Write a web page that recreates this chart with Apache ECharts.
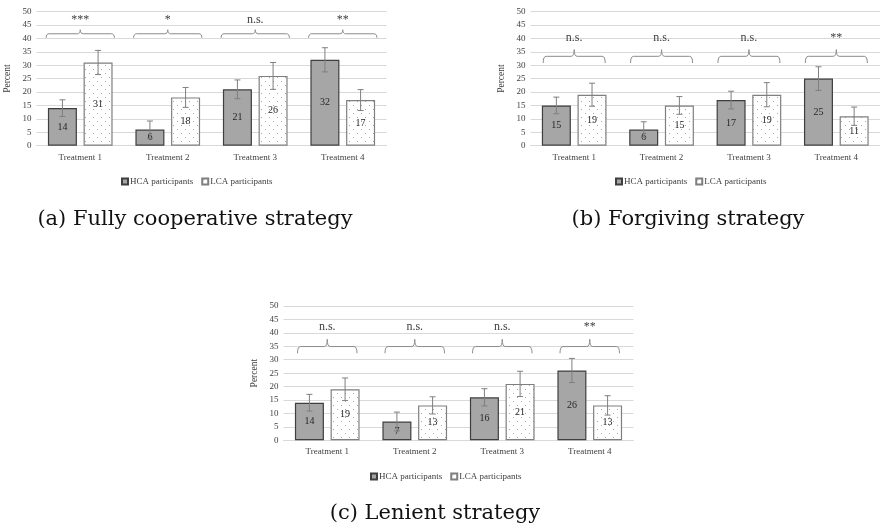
<!DOCTYPE html>
<html>
<head>
<meta charset="utf-8">
<script src="https://cdn.jsdelivr.net/npm/echarts@6/dist/echarts.min.js"></script>
<style>
  html, body { margin: 0; padding: 0; background: #fff; }
  #chart { width: 880px; height: 529px; }
</style>
</head>
<body>
<div id="chart"></div>
<script>
// Share of participants using each strategy, by treatment and group
const categories = ['Treatment 1', 'Treatment 2', 'Treatment 3', 'Treatment 4'];
const groupNames = ['HCA participants', 'LCA participants'];
const yTicks = { min: 0, max: 50, step: 5 };

// (a) Fully cooperative strategy
const coopHCA = [14, 6, 21, 32];
const coopLCA = [31, 18, 26, 17];
const coopHCAErr = [3.1, 3.2, 3.5, 4.5];
const coopLCAErr = [4.5, 3.7, 5.0, 3.9];
const coopSig = ['***', '*', 'n.s.', '**'];

// (b) Forgiving strategy
const forgHCA = [15, 6, 17, 25];
const forgLCA = [19, 15, 19, 11];
const forgHCAErr = [3.1, 2.9, 3.3, 4.4];
const forgLCAErr = [4.3, 3.3, 4.5, 3.4];
const forgSig = ['n.s.', 'n.s.', 'n.s.', '**'];

// (c) Lenient strategy
const lenHCA = [14, 7, 16, 26];
const lenLCA = [19, 13, 21, 13];
const lenHCAErr = [3.1, 3.5, 3.2, 4.5];
const lenLCAErr = [4.2, 3.2, 4.7, 3.6];
const lenSig = ['n.s.', 'n.s.', 'n.s.', '**'];

const captions = ['(a) Fully cooperative strategy', '(b) Forgiving strategy', '(c) Lenient strategy'];

// ---- layout and style ----
const FONT = '"Liberation Serif", "Times New Roman", serif';
const CAPTION_FONT = '"DejaVu Serif", serif';
const BAR_W = 29;
const BAR_GAP = 0.23;
const BAR_OFF = (BAR_W + BAR_W * BAR_GAP) / 2;

const panels = [
  { hca: coopHCA, lca: coopLCA, hErr: coopHCAErr, lErr: coopLCAErr, sig: coopSig,
    grid: { left: 36.5, top: 11.5, width: 350, height: 134.2 },
    brace: { level: 41.7, drop: 1.5, peak: 1.5, text: 46.8, frac: 0.78 },
    legend: { left: 116, top: 172 }, caption: { x: 195, y: 219.5 } },
  { hca: forgHCA, lca: forgLCA, hErr: forgHCAErr, lErr: forgLCAErr, sig: forgSig,
    grid: { left: 530.5, top: 11.5, width: 350, height: 134.2 },
    brace: { level: 33.3, drop: 2.5, peak: 2.5, text: 40.2, frac: 0.71 },
    legend: { left: 610, top: 172 }, caption: { x: 688, y: 219.5 } },
  { hca: lenHCA, lca: lenLCA, hErr: lenHCAErr, lErr: lenLCAErr, sig: lenSig,
    grid: { left: 283.5, top: 306, width: 350, height: 134.3 },
    brace: { level: 34.9, drop: 2.5, peak: 2.7, text: 42.4, frac: 0.68 },
    legend: { left: 365, top: 467 }, caption: { x: 435, y: 513.5 } }
];

// white fill with a sparse grey dot pattern for the LCA bars
function dotPattern() {
  const c = document.createElement('canvas');
  c.width = 8; c.height = 8;
  const g = c.getContext('2d');
  g.fillStyle = '#ffffff';
  g.fillRect(0, 0, 8, 8);
  g.fillStyle = '#a8a8a8';
  g.fillRect(1, 1, 1, 1);
  g.fillRect(5, 5, 1, 1);
  return c;
}
const dots = dotPattern();

const option = {
  animation: false,
  backgroundColor: '#ffffff',
  textStyle: { fontFamily: FONT },
  grid: [],
  xAxis: [],
  yAxis: [],
  legend: [],
  series: [],
  graphic: []
};

panels.forEach((p, i) => {
  option.grid.push(Object.assign({ containLabel: false }, p.grid));
  option.xAxis.push({
    type: 'category', gridIndex: i, data: categories,
    axisLine: { show: true, lineStyle: { color: '#d9d9d9', width: 1 } },
    axisTick: { show: false },
    axisLabel: { fontFamily: FONT, fontSize: 9, color: '#404040', margin: 7 }
  });
  option.yAxis.push({
    type: 'value', gridIndex: i, min: yTicks.min, max: yTicks.max, interval: yTicks.step,
    name: 'Percent', nameLocation: 'middle', nameRotate: 90, nameGap: 24,
    nameTextStyle: { fontFamily: FONT, fontSize: 9.5, color: '#404040' },
    axisLine: { show: false }, axisTick: { show: false },
    axisLabel: { fontFamily: FONT, fontSize: 9, color: '#404040', margin: 5 },
    splitLine: { show: true, lineStyle: { color: '#d9d9d9', width: 1 } }
  });
  option.legend.push({
    data: groupNames, left: p.legend.left, top: p.legend.top,
    icon: 'rect', itemWidth: 6, itemHeight: 6, itemGap: 8,
    textStyle: { fontFamily: FONT, fontSize: 9, color: '#404040', padding: [0, 0, 0, -3] },
    selectedMode: false
  });

  const barLabel = {
    show: true, position: 'inside', fontFamily: FONT, fontSize: 10, color: '#262626'
  };
  option.series.push({
    name: groupNames[0], type: 'bar', xAxisIndex: i, yAxisIndex: i,
    data: p.hca, barWidth: BAR_W, barGap: (BAR_GAP * 100) + '%',
    itemStyle: { color: '#a6a6a6', borderColor: '#3f3f3f', borderWidth: 1.2 },
    label: barLabel, z: 2
  });
  option.series.push({
    name: groupNames[1], type: 'bar', xAxisIndex: i, yAxisIndex: i,
    data: p.lca, barWidth: BAR_W, barGap: (BAR_GAP * 100) + '%',
    itemStyle: { color: { image: dots, repeat: 'repeat' }, borderColor: '#7f7f7f', borderWidth: 1.2 },
    label: barLabel, z: 2
  });

  // error bars, centred on each bar top
  [[p.hca, p.hErr, -BAR_OFF], [p.lca, p.lErr, BAR_OFF]].forEach(([vals, errs, off]) => {
    option.series.push({
      type: 'custom', xAxisIndex: i, yAxisIndex: i, z: 5, silent: true,
      encode: { x: 0, y: 1 },
      data: vals.map((v, k) => [k, v, errs[k]]),
      renderItem: (params, api) => {
        const c = api.coord([api.value(0), api.value(1)]);
        const e = api.size([0, api.value(2)])[1];
        const x = c[0] + off, cap = 3;
        const st = { stroke: '#7f7f7f', lineWidth: 1 };
        return { type: 'group', children: [
          { type: 'line', shape: { x1: x, y1: c[1] - e, x2: x, y2: c[1] + e }, style: st },
          { type: 'line', shape: { x1: x - cap, y1: c[1] - e, x2: x + cap, y2: c[1] - e }, style: st },
          { type: 'line', shape: { x1: x - cap, y1: c[1] + e, x2: x + cap, y2: c[1] + e }, style: st }
        ] };
      }
    });
  });

  // significance braces and their labels above each treatment
  const b = p.brace;
  option.series.push({
    type: 'custom', xAxisIndex: i, yAxisIndex: i, z: 5, silent: true,
    encode: { x: 0, y: 1 },
    data: categories.map((c, k) => [k, b.level]),
    renderItem: (params, api) => {
      const c = api.coord([api.value(0), api.value(1)]);
      const band = api.size([1, 0])[0];
      const w = band * b.frac;
      const drop = api.size([0, b.drop])[1];
      const peak = api.size([0, b.peak])[1];
      const cx = c[0], yh = c[1];
      const x0 = cx - w / 2, x1 = cx + w / 2, r = 3;
      const path = 'M' + x0 + ' ' + (yh + drop) +
        ' Q' + x0 + ' ' + yh + ' ' + (x0 + r) + ' ' + yh +
        ' L' + (cx - r) + ' ' + yh +
        ' Q' + cx + ' ' + yh + ' ' + cx + ' ' + (yh - peak) +
        ' Q' + cx + ' ' + yh + ' ' + (cx + r) + ' ' + yh +
        ' L' + (x1 - r) + ' ' + yh +
        ' Q' + x1 + ' ' + yh + ' ' + x1 + ' ' + (yh + drop);
      const ty = api.coord([api.value(0), b.text])[1];
      return { type: 'group', children: [
        { type: 'path', shape: { pathData: path }, style: { stroke: '#8c8c8c', lineWidth: 1, fill: null } },
        { type: 'text', style: { x: cx, y: ty, text: p.sig[params.dataIndex], textAlign: 'center',
          textVerticalAlign: 'middle', font: '12px ' + FONT, fill: '#404040' } }
      ] };
    }
  });

  option.graphic.push({
    type: 'text', silent: true,
    style: { x: p.caption.x, y: p.caption.y, text: captions[i], textAlign: 'center',
      textVerticalAlign: 'middle', font: '21px ' + CAPTION_FONT, fill: '#111111' }
  });
});

const chart = echarts.init(document.getElementById('chart'), null, { renderer: 'canvas' });
chart.setOption(option);
</script>
</body>
</html>
